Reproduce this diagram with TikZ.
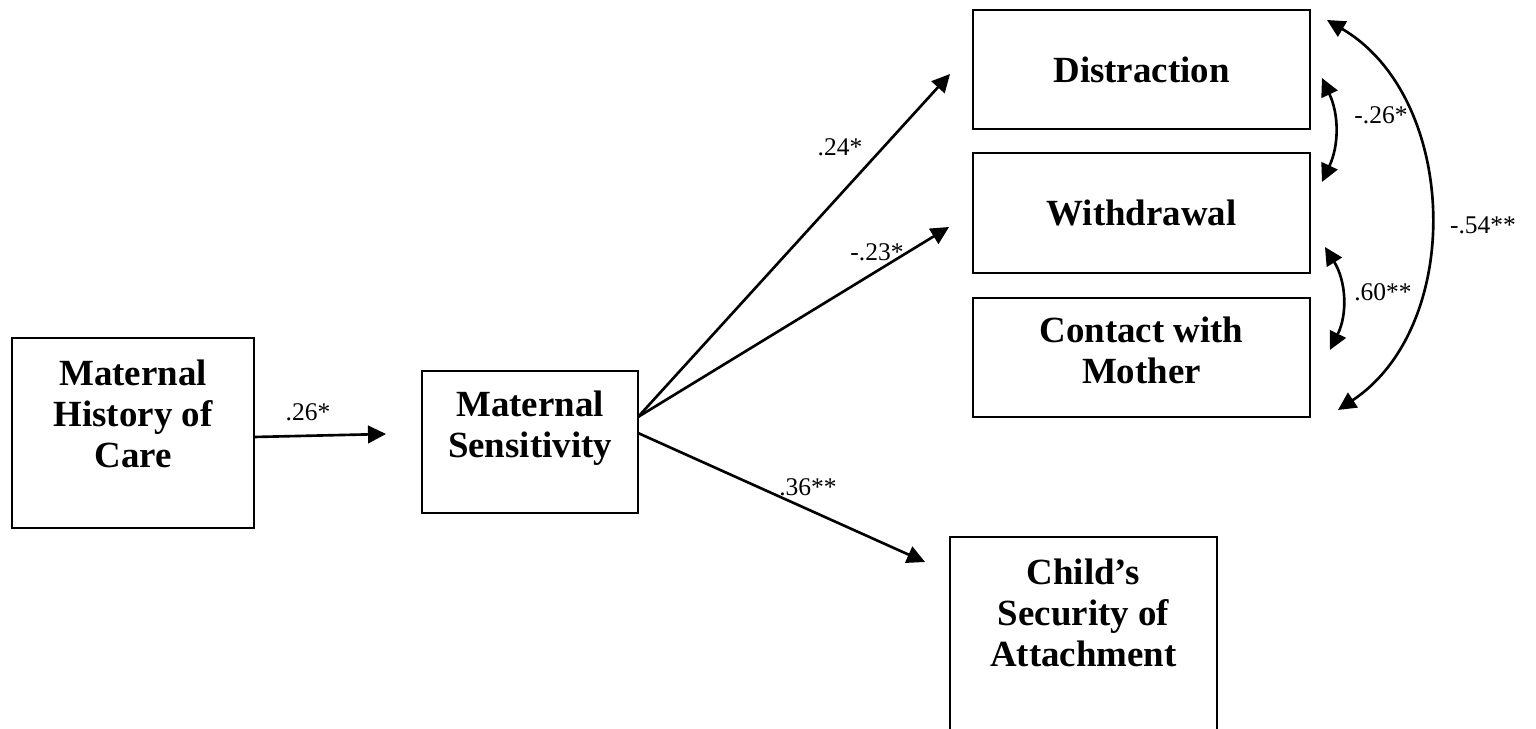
\documentclass[tikz,border=0pt]{standalone}
\usepackage{fontspec}
\setmainfont{Liberation Serif}
\usetikzlibrary{arrows.meta,positioning}
\tikzset{
  sem/var/.style={draw, line width=1.4pt, inner sep=0pt, outer sep=0pt, align=center, font=\fontsize{21pt}{23.3pt}\selectfont\bfseries},
  sem/title/.style={inner sep=0pt, align=center, font=\fontsize{21pt}{23.3pt}\selectfont\bfseries},
  sem/coef/.style={inner sep=1pt, font=\fontsize{14.5pt}{17pt}\selectfont},
  sem/path/.style={line width=1.5pt, -{Triangle[length=3.6mm,width=3.5mm]}},
  sem/cov/.style={line width=1.5pt, {Triangle[length=3.6mm,width=3.5mm]}-{Triangle[length=3.6mm,width=3.5mm]}}
}

\begin{document}
\begin{tikzpicture}[x=0.02cm, y=-0.02cm]
  \clip (0,0) rectangle (1536,729);

  % predictor and mediator
  \node[sem/var, minimum width=4.84cm, minimum height=3.8cm] (care) at (133,433) {};
  \node[sem/title, below=0.43cm of care.north] (care-txt) {Maternal\\History of\\Care};
  \node[sem/var, minimum width=4.32cm, minimum height=2.84cm] (sens) at (530,442) {};
  \node[sem/title, below=0.4cm of sens.north] (sens-txt) {Maternal\\Sensitivity};

  % outcomes
  \node[sem/var, minimum width=6.74cm, minimum height=2.38cm] (dist) at (1141.5,69.5) {Distraction};
  \node[sem/var, minimum width=6.74cm, minimum height=2.4cm] (with) at (1141.5,213) {Withdrawal};
  \node[sem/var, minimum width=6.74cm, minimum height=2.38cm] (cont) at (1141.5,357.5) {};
  \node[sem/title, below=0.38cm of cont.north] (cont-txt) {Contact with\\Mother};
  \node[sem/var, minimum width=5.34cm, minimum height=3.92cm] (child) at (1083.5,635) {};
  \node[sem/title, below=0.44cm of child.north] (child-txt) {Child’s\\Security of\\Attachment};

  % paths
  \draw[sem/path] ([yshift=-0.08cm]care.east) -- ([xshift=-0.72cm,yshift=0.16cm]sens.west);
  \draw[sem/path] ([yshift=0.5cm]sens.east) -- ([xshift=-0.46cm,yshift=-0.09cm]dist.west);
  \draw[sem/path] ([yshift=0.5cm]sens.east) -- ([xshift=-0.48cm,yshift=-0.28cm]with.west);
  \draw[sem/path] ([yshift=0.18cm]sens.east) -- ([xshift=-0.5cm,yshift=-0.5cm]child.north west);

  % covariances
  \draw[sem/cov] ([xshift=0.24cm,yshift=-0.17cm]dist.east) to[bend left=25] ([xshift=0.24cm,yshift=0.62cm]with.east);
  \draw[sem/cov] ([xshift=0.3cm,yshift=-0.68cm]with.east) to[bend left=29] ([xshift=0.4cm,yshift=0.15cm]cont.east);
  \draw[sem/cov] ([xshift=0.34cm,yshift=-0.2cm]dist.north east) to[bend left=58] ([xshift=0.56cm,yshift=0.14cm]cont.south east);

  % coefficients
  \node[sem/coef] (c-care) at (308,412) {.26*};
  \node[sem/coef] (c-dist) at (840,147) {.24*};
  \node[sem/coef] (c-with) at (877,252) {-.23*};
  \node[sem/coef] (c-child) at (808,487) {.36**};
  \node[sem/coef] (r-dw) at (1381,115) {-.26*};
  \node[sem/coef] (r-wc) at (1383,292) {.60**};
  \node[sem/coef] (r-dc) at (1483,225) {-.54**};
\end{tikzpicture}
\end{document}
